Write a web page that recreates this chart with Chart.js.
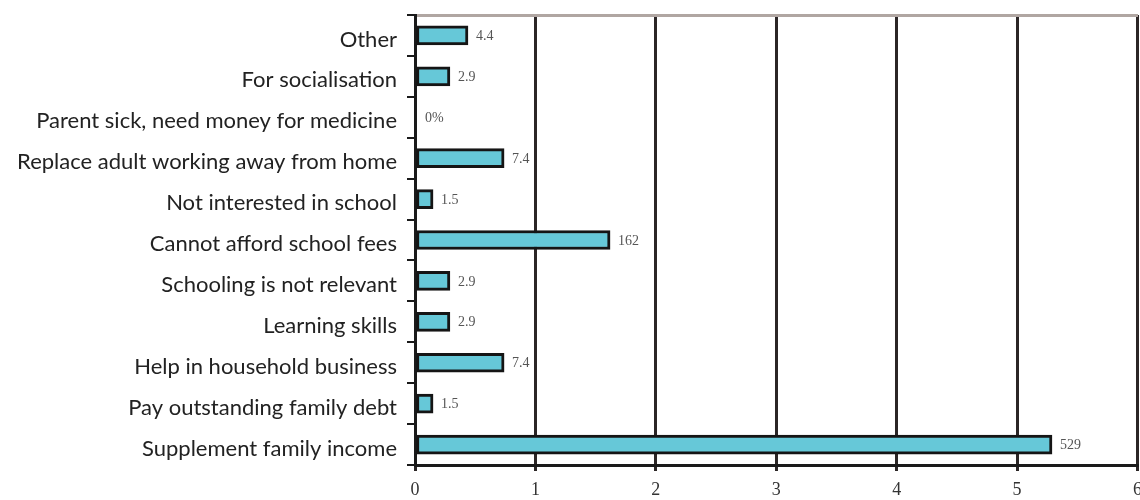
<!DOCTYPE html>
<html>
<head>
<meta charset="utf-8">
<script src="https://cdn.jsdelivr.net/npm/chart.js@4/dist/chart.umd.min.js"></script>
<style>
  html, body { margin: 0; padding: 0; background: #fff; overflow: hidden; }
  #wrap { width: 1150px; height: 500px; }
</style>
</head>
<body>
<div id="wrap"><canvas id="reasonChart" width="1150" height="500"></canvas></div>
<script>
// Reasons for working, share of children (%)
const reasons = [
    'Other',
    'For socialisation',
    'Parent sick, need money for medicine',
    'Replace adult working away from home',
    'Not interested in school',
    'Cannot afford school fees',
    'Schooling is not relevant',
    'Learning skills',
    'Help in household business',
    'Pay outstanding family debt',
    'Supplement family income'
];
const shares = [4.4, 2.9, 0, 7.4, 1.5, 16.2, 2.9, 2.9, 7.4, 1.5, 52.9];
const shareLabels = ['4.4', '2.9', '0%', '7.4', '1.5', '162', '2.9', '2.9', '7.4', '1.5', '529'];
const axisTicks = [0, 10, 20, 30, 40, 50, 60];

// value text next to each bar
const barValues = {
    id: 'barValues',
    afterDatasetsDraw(chart) {
        const ctx = chart.ctx;
        const meta = chart.getDatasetMeta(0);
        ctx.save();
        ctx.font = '14px "Liberation Serif", serif';
        ctx.fillStyle = '#555';
        ctx.textAlign = 'left';
        ctx.textBaseline = 'middle';
        meta.data.forEach((bar, i) => {
            const gap = shares[i] === 0 ? 10 : 8;
            ctx.fillText(shareLabels[i], bar.x + gap, bar.y + 1);
        });
        ctx.restore();
    }
};

const ctx = document.getElementById('reasonChart').getContext('2d');
new Chart(ctx, {
    type: 'bar',
    data: {
        labels: reasons,
        datasets: [{
            data: shares,
            backgroundColor: '#66c8d8',
            borderColor: '#151515',
            borderWidth: 3,
            borderSkipped: false,
            barThickness: 19
        }]
    },
    options: {
        indexAxis: 'y',
        responsive: false,
        animation: false,
        layout: { padding: { top: 15, right: 4, bottom: 0, left: 0 } },
        plugins: {
            legend: { display: false },
            tooltip: { enabled: false }
        },
        scales: {
            x: {
                min: 0,
                max: 60,
                afterBuildTicks: (scale) => { scale.ticks = axisTicks.map(v => ({ value: v })); },
                afterFit: (scale) => { scale.height = 35; },
                ticks: {
                    callback: (v) => v / 10,
                    color: '#333',
                    font: { family: '"Liberation Serif", serif', size: 18 },
                    padding: 8,
                    maxRotation: 0
                },
                grid: { color: '#2b2626', lineWidth: 3, tickLength: 6 },
                border: { color: '#1a1a1a', width: 3 }
            },
            xTop: {
                position: 'top',
                min: 0,
                max: 60,
                afterFit: (scale) => { scale.height = 0; },
                ticks: { display: false },
                grid: { display: false },
                border: { color: '#b0a6a2', width: 3 }
            },
            y: {
                afterFit: (scale) => {
                    scale.width = 415;
                    scale.paddingTop = 0;
                    scale.paddingBottom = 0;
                },
                ticks: {
                    color: '#222',
                    font: { family: 'Lato', size: 22 },
                    padding: 10,
                    labelOffset: 4
                },
                grid: {
                    drawOnChartArea: false,
                    color: '#1a1a1a',
                    lineWidth: 2,
                    tickLength: 8
                },
                border: { color: '#1a1a1a', width: 3 }
            }
        }
    },
    plugins: [barValues]
});
</script>
</body>
</html>
